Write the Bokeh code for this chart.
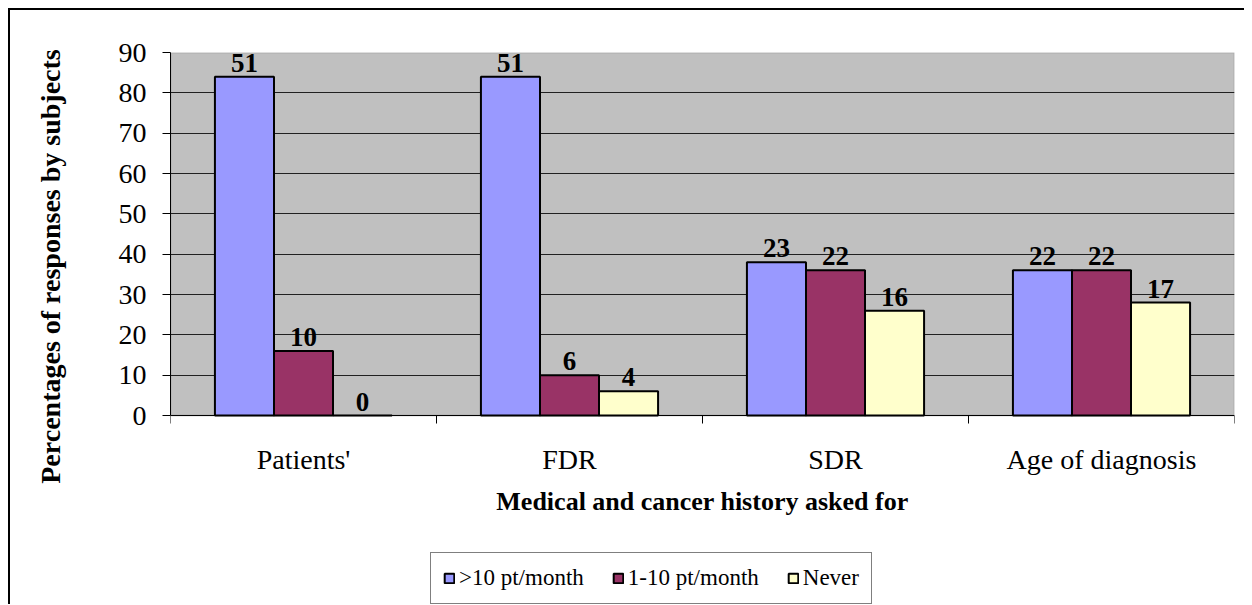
from bokeh.plotting import figure
from bokeh.layouts import column
from bokeh.models import (ColumnDataSource, FixedTicker, Legend, LegendItem,
                          BoxAnnotation, LinearAxis)
from bokeh.core.properties import value
from bokeh.embed import file_html
from bokeh.resources import INLINE
import numpy as np

categories = ["Patients'", "FDR", "SDR", "Age of diagnosis"]
series_names = [">10 pt/month", "1-10 pt/month", "Never"]
pct_over10 = [84, 84, 38, 36]
pct_1to10 = [16, 10, 36, 36]
pct_never = [0, 6, 26, 28]
n_over10 = [51, 51, 23, 22]
n_1to10 = [10, 6, 22, 22]
n_never = [0, 4, 16, 17]
y_ticks = [0, 10, 20, 30, 40, 50, 60, 70, 80, 90]
colors = ["#9999FF", "#993366", "#FFFFCC"]

FONT = "Liberation Serif"
Y_MIN, Y_MAX = 0, 90
Y_LOW = -16.1  # extra room under the value axis for the category labels

p = figure(width=1234, height=510, x_range=(0, 4), y_range=(Y_LOW, Y_MAX),
           output_backend="svg", toolbar_location=None,
           min_border_left=160, min_border_right=10, min_border_top=42, min_border_bottom=40,
           background_fill_color="white", border_fill_color="white",
           outline_line_color=None)

# grey plot area with grey border
p.add_layout(BoxAnnotation(left=0, right=len(categories), bottom=Y_MIN, top=Y_MAX,
                           fill_color="#C0C0C0", fill_alpha=1.0,
                           line_color="#808080", line_width=2, level="image"))

bw = 0.222
offsets = [-bw, 0.0, bw]
pcts = [pct_over10, pct_1to10, pct_never]
counts = [n_over10, n_1to10, n_never]
idx = np.arange(len(categories)) + 0.5

for k in range(3):
    src = ColumnDataSource(dict(x=idx + offsets[k], top=pcts[k],
                                lab=[str(v) for v in counts[k]]))
    p.vbar(x="x", top="top", bottom=0, width=bw, source=src, fill_color=colors[k],
           line_color="black", line_width=2)
    p.text(x="x", y="top", text="lab", source=src, text_align="center",
           text_baseline="alphabetic", y_offset=-14,
           text_font=value(FONT), text_font_size="27px", text_font_style="bold",
           text_color="black")

# grid
p.xgrid.visible = False
p.ygrid.ticker = FixedTicker(ticks=y_ticks[1:-1])
p.ygrid.grid_line_color = "#202020"
p.ygrid.grid_line_width = 1

# y axis
ya = p.yaxis[0]
ya.ticker = FixedTicker(ticks=y_ticks, minor_ticks=[])
ya.bounds = (Y_MIN, Y_MAX)
ya.axis_line_color = "black"
ya.axis_line_width = 1
ya.major_tick_in = 0
ya.major_tick_out = 8
ya.minor_tick_out = 0
ya.minor_tick_in = 0
ya.major_tick_line_color = "black"
ya.major_label_text_font = FONT
ya.major_label_text_font_size = "28px"
ya.major_label_text_color = "black"
ya.major_label_standoff = 16
ya.axis_label = "Percentages of responses by subjects"
ya.axis_label_text_font = FONT
ya.axis_label_text_font_size = "28px"
ya.axis_label_text_font_style = "bold"
ya.axis_label_text_color = "black"
ya.axis_label_standoff = 50

# x axis (category axis fixed at y = 0)
xa = p.xaxis[0]
xa.fixed_location = 0
xa.ticker = FixedTicker(ticks=list(idx), minor_ticks=list(range(len(categories) + 1)))
xa.major_label_overrides = {float(v): c for v, c in zip(idx, categories)}
xa.axis_line_color = "black"
xa.major_tick_in = 0
xa.major_tick_out = 0
xa.minor_tick_in = 0
xa.minor_tick_out = 8
xa.minor_tick_line_color = "black"
xa.major_label_text_font = FONT
xa.major_label_text_font_size = "28px"
xa.major_label_text_color = "black"
xa.major_label_standoff = 20

# x axis title (separate axis carrying only the title)
xt = LinearAxis(ticker=FixedTicker(ticks=[]), axis_line_color=None,
                major_tick_line_color=None, minor_tick_line_color=None,
                major_label_text_font_size="0px",
                axis_label="Medical and cancer history asked for",
                axis_label_text_font=FONT, axis_label_text_font_size="26px",
                axis_label_text_font_style="bold", axis_label_text_color="black",
                axis_label_standoff=6)
p.add_layout(xt, "below")

# legend figure
p2 = figure(width=1234, height=84, x_range=(0, 4), y_range=(200, 201),
            output_backend="svg", toolbar_location=None,
            x_axis_type=None, y_axis_type=None,
            min_border_left=0, min_border_right=0, min_border_top=0, min_border_bottom=0,
            background_fill_color="white", border_fill_color="white",
            outline_line_color=None)
p2.xgrid.visible = False
p2.ygrid.visible = False
leg_r = []
for k in range(3):
    src2 = ColumnDataSource(dict(x=idx + offsets[k], top=pcts[k]))
    r2 = p2.vbar(x="x", top="top", bottom=0, width=bw, source=src2,
                 fill_color=colors[k], line_color="black", line_width=2)
    r2.visible = False
    leg_r.append(r2)

legend = Legend(items=[LegendItem(label=s, renderers=[r]) for s, r in zip(series_names, leg_r)],
                orientation="horizontal", location=(260, 0),
                padding=12, spacing=28, label_standoff=4,
                glyph_width=12, glyph_height=12,
                label_text_font=FONT, label_text_font_size="23px",
                label_text_color="black",
                border_line_color="black", border_line_width=1,
                background_fill_color="white", margin=0,
                inactive_fill_alpha=0.0)
p2.add_layout(legend, "center")

layout = column(p, p2, spacing=0)
layout.styles = {"border-top": "2px solid black", "border-left": "2px solid black",
                 "margin-top": "8px", "margin-left": "8px"}

open("out.html", "w").write(file_html(layout, INLINE))
